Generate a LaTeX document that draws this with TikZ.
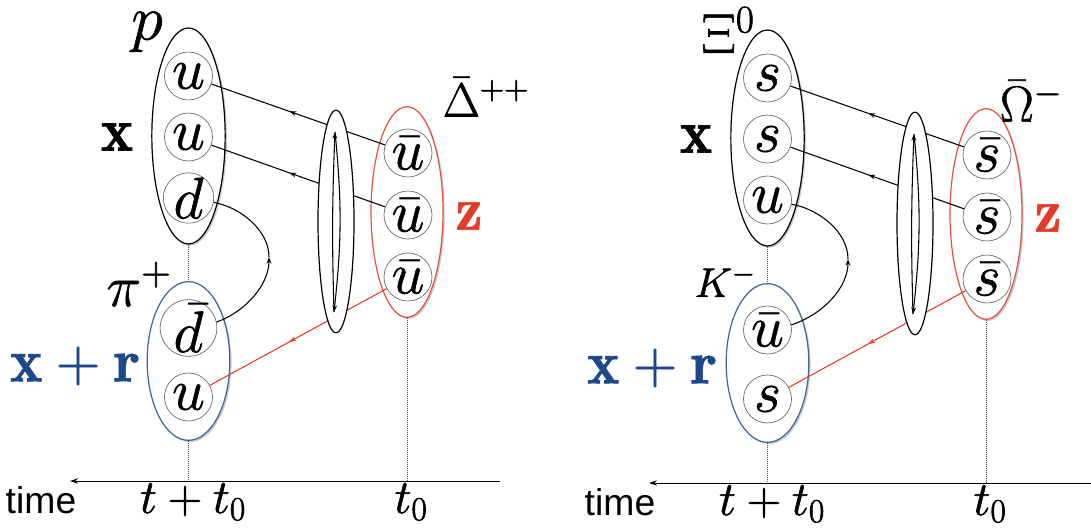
\RequirePackage{fix-cm}
\documentclass[tikz,border=0pt]{standalone}
\usepackage{fontspec}
\newfontfamily\timefont{Liberation Sans}
\usetikzlibrary{shapes.geometric,arrows.meta,decorations.markings,shadows}
\definecolor{myred}{RGB}{228,58,42}
\definecolor{elred}{RGB}{226,80,62}
\definecolor{myblue}{RGB}{30,72,140}
\definecolor{elblue}{RGB}{60,100,155}
\newcommand{\hvon}{\special{pdf:literal direct 2 Tr 0.45 w}}
\newcommand{\hvoff}{\special{pdf:literal direct 0 Tr}}
\begin{document}
\begin{tikzpicture}[x=0.75pt,y=-0.75pt,
  hadron/.style={ellipse, draw, line width=0.9pt, fill=white, inner sep=0pt,
    drop shadow={shadow xshift=1.3pt, shadow yshift=-1.3pt, opacity=0.2, fill=black}},
  narrowel/.style={ellipse, draw, line width=0.9pt, fill=white, inner sep=0pt,
    minimum width=27pt, minimum height=167pt},
  quark/.style={circle, draw=black!60, line width=0.5pt, fill=white, inner sep=0pt,
    minimum size=36pt, text=black, font=\fontsize{44}{46}\selectfont,
    execute at begin node=\hvon, execute at end node=\hvoff},
  ln/.style={line width=0.8pt},
  midarrow/.style={postaction={decorate}, decoration={markings,
    mark=at position #1 with {\arrow{Stealth[length=5pt,width=3.6pt]}}}},
  dotln/.style={densely dotted, line width=0.5pt, black!70},
  axisln/.style={line width=0.7pt, -{Stealth[length=6pt,width=4pt]}},
  lbl/.style={inner sep=0pt, execute at begin node=\hvon, execute at end node=\hvoff},
  plainlbl/.style={inner sep=0pt},
  tiptip/.style={-{Stealth[length=5pt,width=3.6pt]}}
]
\useasboundingbox (0,0) rectangle (1091,530);

% ================= LEFT PANEL =================
\node[hadron, minimum width=55pt, minimum height=162pt] (LP) at (188.5,136) {};
\node[hadron, draw=elred, minimum width=54pt, minimum height=158pt] (LR) at (407,212) {};
\node[hadron, draw=elblue, minimum width=62pt, minimum height=119pt] (LB) at (188.5,361) {};

\node[quark] (Lu1) at (188.5,76) {$u$};
\node[quark] (Lu2) at (188.5,137) {$u$};
\node[quark] (Ld) at (188.5,198) {$d$};
\node[quark] (Lb1) at (408,153) {$\bar u$};
\node[quark] (Lb2) at (408,215) {$\bar u$};
\node[quark] (Lb3) at (408,277) {$\bar u$};
\node[quark] (Ldb) at (188.5,328) {$\bar d$};
\node[quark] (Luq) at (188.5,397) {$u$};

\draw[ln, midarrow=0.55] (Lb1) -- (Lu1);
\draw[ln, midarrow=0.55] (Lb2) -- (Lu2);
\draw[ln, myred, midarrow=0.55] (Lb3) -- (Luq);
\coordinate (Lcm) at (269,257);
\draw[ln, tiptip] (Ldb.12) .. controls (245,312) and (269,285) .. (Lcm);
\draw[ln] (Lcm) .. controls (269,230) and (240,207) .. (Ld.-10);

\node[narrowel] (LN) at (336,221.5) {};
\coordinate (LNt) at (335,132);
\coordinate (LNb) at (334,312);
\draw[ln, tiptip] (LNb) to[bend left=2] (LNt);
\draw[ln, tiptip] (LNt) to[bend left=6] (LNb);

\coordinate (LaxA) at (407,481);
\coordinate (LaxB) at (188.5,481);
\coordinate (Lax0) at (500,481);
\coordinate (Lax1) at (70,481);
\draw[dotln] (LP.south) -- (LB.north);
\draw[dotln] (LB.south) -- (LaxB);
\draw[dotln] (LR.south) -- (LaxA);
\draw[axisln] (Lax0) -- (Lax1);

\node[lbl, text=black, font=\fontsize{48}{50}\selectfont] (Llp) at (147,32) {$p$};
\node[lbl, text=black, font=\fontsize{46}{48}\selectfont] (Llx) at (117,137) {$\mathbf{x}$};
\node[lbl, text=black, font=\fontsize{36}{38}\selectfont] (Lld) at (486,97) {$\bar\Delta^{++}$};
\node[lbl, text=myred, font=\fontsize{46}{48}\selectfont] (Llz) at (469,216) {$\mathbf{z}$};
\node[lbl, text=black, font=\fontsize{44}{46}\selectfont] (Llpi) at (139,284) {$\pi^+$};
\node[lbl, text=myblue, font=\fontsize{46}{48}\selectfont] (Llxr) at (75,366) {$\mathbf{x}+\mathbf{r}$};
\node[plainlbl, anchor=base, font=\timefont\fontsize{28}{30}\selectfont] (Llt) at (41,513) {time};
\node[lbl, text=black, anchor=base, font=\fontsize{36}{38}\selectfont] (Lltt) at (193,513) {$t+t_0$};
\node[lbl, text=black, anchor=base, font=\fontsize{36}{38}\selectfont] (Llt0) at (411,513) {$t_0$};

% ================= RIGHT PANEL =================
\begin{scope}[shift={(579,2)}]
\node[hadron, minimum width=55pt, minimum height=162pt] (RP) at (188.5,136) {};
\node[hadron, draw=elred, minimum width=54pt, minimum height=158pt] (RR) at (407,212) {};
\node[hadron, draw=elblue, minimum width=62pt, minimum height=119pt] (RB) at (188.5,361) {};

\node[quark] (Ru1) at (188.5,76) {$s$};
\node[quark] (Ru2) at (188.5,137) {$s$};
\node[quark] (Rd) at (188.5,198) {$u$};
\node[quark] (Rb1) at (408,153) {$\bar s$};
\node[quark] (Rb2) at (408,215) {$\bar s$};
\node[quark] (Rb3) at (408,277) {$\bar s$};
\node[quark] (Rdb) at (188.5,328) {$\bar u$};
\node[quark] (Ruq) at (188.5,397) {$s$};

\draw[ln, midarrow=0.55] (Rb1) -- (Ru1);
\draw[ln, midarrow=0.55] (Rb2) -- (Ru2);
\draw[ln, myred, midarrow=0.55] (Rb3) -- (Ruq);
\coordinate (Rcm) at (269,257);
\draw[ln, tiptip] (Rdb.12) .. controls (245,312) and (269,285) .. (Rcm);
\draw[ln] (Rcm) .. controls (269,230) and (240,207) .. (Rd.-10);

\node[narrowel] (RN) at (336,221.5) {};
\coordinate (RNt) at (335,132);
\coordinate (RNb) at (334,312);
\draw[ln, tiptip] (RNb) to[bend left=2] (RNt);
\draw[ln, tiptip] (RNt) to[bend left=6] (RNb);

\coordinate (RaxA) at (407,481);
\coordinate (RaxB) at (188.5,481);
\coordinate (Rax0) at (512,481);
\coordinate (Rax1) at (70,481);
\draw[dotln] (RP.south) -- (RB.north);
\draw[dotln] (RB.south) -- (RaxB);
\draw[dotln] (RR.south) -- (RaxA);
\draw[axisln] (Rax0) -- (Rax1);

\node[lbl, text=black, font=\fontsize{42}{44}\selectfont] (Rlp) at (149,28) {$\Xi^0$};
\node[lbl, text=black, font=\fontsize{46}{48}\selectfont] (Rlx) at (117,137) {$\mathbf{x}$};
\node[lbl, text=black, font=\fontsize{38}{40}\selectfont] (Rld) at (452,99) {$\bar\Omega^{-}$};
\node[lbl, text=myred, font=\fontsize{46}{48}\selectfont] (Rlz) at (469,216) {$\mathbf{z}$};
\node[lbl, text=black, font=\fontsize{31}{33}\selectfont] (Rlk) at (146,279) {$K^-$};
\node[lbl, text=myblue, font=\fontsize{46}{48}\selectfont] (Rlxr) at (73,366) {$\mathbf{x}+\mathbf{r}$};
\node[plainlbl, anchor=base, font=\timefont\fontsize{28}{30}\selectfont] (Rlt) at (41,513) {time};
\node[lbl, text=black, anchor=base, font=\fontsize{36}{38}\selectfont] (Rltt) at (193,513) {$t+t_0$};
\node[lbl, text=black, anchor=base, font=\fontsize{36}{38}\selectfont] (Rlt0) at (411,513) {$t_0$};
\end{scope}
\end{tikzpicture}
\end{document}
